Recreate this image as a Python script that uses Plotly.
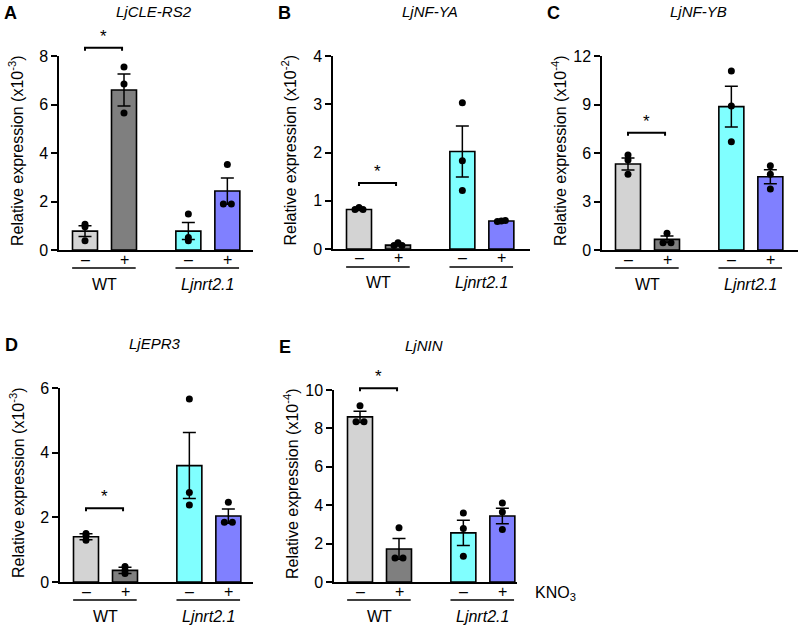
import plotly.graph_objects as go

# ---------------- data ----------------
x_pos = [0, 1, 2.65, 3.65]
kno3_ticks = ['–', '+', '–', '+']
genotypes = ['WT', 'Ljnrt2.1']
bar_colors = ['#D3D3D3', '#7F7F7F', '#80FFFF', '#8080FF']

panel_letters = ['A', 'B', 'C', 'D', 'E']
gene_names = ['LjCLE-RS2', 'LjNF-YA', 'LjNF-YB', 'LjEPR3', 'LjNIN']
y_exponents = ['-3', '-2', '-4', '-3', '-4']
y_max = [8, 4, 12, 6, 10]
y_dtick = [2, 1, 3, 2, 2]

mean_A = [0.78, 6.60, 0.78, 2.43]
sem_A = [0.22, 0.66, 0.35, 0.54]
pts_A = [[1.06, 0.96, 0.38], [7.55, 6.85, 5.65], [1.48, 0.52, 0.38], [3.53, 1.90, 1.90]]

mean_B = [0.82, 0.08, 2.02, 0.58]
sem_B = [0.02, 0.02, 0.53, 0.01]
pts_B = [[0.82, 0.86, 0.82], [0.07, 0.13, 0.07], [3.03, 1.83, 1.21], [0.57, 0.58, 0.59]]

mean_C = [5.32, 0.66, 8.87, 4.53]
sem_C = [0.37, 0.20, 1.26, 0.43]
pts_C = [[5.88, 5.57, 4.68], [1.03, 0.45, 0.45], [11.07, 8.91, 6.70], [5.21, 4.68, 3.77]]

mean_D = [1.40, 0.36, 3.60, 2.04]
sem_D = [0.09, 0.10, 1.02, 0.22]
pts_D = [[1.50, 1.43, 1.29], [0.48, 0.36, 0.26], [5.66, 2.77, 2.38], [2.47, 1.85, 1.85]]

mean_E = [8.60, 1.72, 2.56, 3.44]
sem_E = [0.29, 0.54, 0.66, 0.40]
pts_E = [[9.18, 8.35, 8.35], [2.82, 1.25, 1.25], [3.60, 2.78, 1.34], [4.12, 3.65, 2.73]]

all_means = [mean_A, mean_B, mean_C, mean_D, mean_E]
all_sems = [sem_A, sem_B, sem_C, sem_D, sem_E]
all_pts = [pts_A, pts_B, pts_C, pts_D, pts_E]
sig_height = [8.34, 1.37, 7.25, 2.28, 10.09]   # WT -/+ significance bracket level

# ---------------- layout geometry (pixels) ----------------
W, H = 800, 627
geom = [  # left, right, top, bottom of each axis box
    (59, 253, 56, 250),
    (333, 530, 56, 249),
    (602, 798, 56, 250),
    (60, 253, 388, 582),
    (334, 517, 390, 582),
]
PX_PER_X = 39.0
X_OFF = 26.0
FONT = 'Arial, Liberation Sans, sans-serif'


def fx(px):
    return px / W


def fy(py):
    return 1 - py / H


def spread(vals, ppu, tol_px=1.5, total_px=8):
    offs = [0.0] * len(vals)
    used = [False] * len(vals)
    for i in range(len(vals)):
        if used[i]:
            continue
        grp = [j for j in range(len(vals)) if not used[j] and abs(vals[j] - vals[i]) * ppu < tol_px]
        for j in grp:
            used[j] = True
        n = len(grp)
        if n > 1:
            for k, j in enumerate(grp):
                offs[j] = (k - (n - 1) / 2) * total_px / (n - 1)
    return offs


fig = go.Figure()
annotations = []
shapes = []
layout_axes = {}

for i in range(5):
    L, R, T, B = geom[i]
    sfx = '' if i == 0 else str(i + 1)
    xa, ya = 'x' + sfx, 'y' + sfx
    ppu = (B - T) / y_max[i]

    fig.add_trace(go.Bar(
        x=x_pos, y=all_means[i], width=25 / PX_PER_X,
        marker=dict(color=bar_colors, line=dict(color='black', width=1.6)),
        error_y=dict(type='data', array=all_sems[i], visible=True,
                     color='black', thickness=1.5, width=6.5),
        xaxis=xa, yaxis=ya, showlegend=False, hoverinfo='skip'))

    px_, py_ = [], []
    for k in range(4):
        offs = spread(all_pts[i][k], ppu)
        for v, o in zip(all_pts[i][k], offs):
            px_.append(x_pos[k] + o / PX_PER_X)
            py_.append(v)
    fig.add_trace(go.Scatter(
        x=px_, y=py_, mode='markers', cliponaxis=False,
        marker=dict(color='black', size=7, line=dict(width=0)),
        xaxis=xa, yaxis=ya, showlegend=False, hoverinfo='skip'))

    layout_axes['xaxis' + sfx] = dict(
        domain=[fx(L), fx(R)], anchor=ya, automargin=False,
        range=[-X_OFF / PX_PER_X, (R - L - X_OFF) / PX_PER_X],
        showline=True, linecolor='black', linewidth=1.5,
        showgrid=False, zeroline=False, ticks='',
        tickmode='array', tickvals=x_pos, showticklabels=False,
        fixedrange=True)
    layout_axes['yaxis' + sfx] = dict(
        domain=[fy(B), fy(T)], anchor=xa, automargin=False,
        range=[0, y_max[i]], dtick=y_dtick[i], tick0=0,
        showline=True, linecolor='black', linewidth=1.5,
        showgrid=False, zeroline=False, ticks='outside', ticklen=6,
        tickwidth=1.5, tickcolor='black',
        tickfont=dict(size=16, color='black', family=FONT), fixedrange=True)

    # KNO3 -/+ labels under each bar
    for k in range(4):
        annotations.append(dict(
            xref=xa, yref='paper', x=x_pos[k], y=fy(B + 9),
            text=kno3_ticks[k], showarrow=False, xanchor='center', yanchor='middle',
            font=dict(size=16, color='black', family=FONT)))

    # y title
    annotations.append(dict(
        xref='paper', yref='paper', x=fx(L - 43), y=fy((T + B) / 2 - 2),
        text='Relative expression (x10<sup>' + y_exponents[i] + '</sup>)',
        textangle=-90, showarrow=False, xanchor='center', yanchor='middle',
        font=dict(size=16, color='black', family=FONT)))
    # gene title
    annotations.append(dict(
        xref='paper', yref='paper', x=fx((L + R) / 2 - 2), y=fy(T - 45),
        text='<i>' + gene_names[i] + '</i>', showarrow=False,
        xanchor='center', yanchor='middle',
        font=dict(size=15, color='black', family=FONT)))
    # panel letter
    annotations.append(dict(
        xref='paper', yref='paper', x=fx(L - 49), y=fy(T - 43),
        text='<b>' + panel_letters[i] + '</b>', showarrow=False,
        xanchor='center', yanchor='middle',
        font=dict(size=18, color='black', family=FONT)))

    # genotype lines + labels
    for g in range(2):
        xa0, xa1 = x_pos[2 * g], x_pos[2 * g + 1]
        shapes.append(dict(type='line', xref=xa, yref='paper',
                           x0=xa0 - 0.33, x1=xa1 + 0.30,
                           y0=fy(B + 18), y1=fy(B + 18),
                           line=dict(color='black', width=1.5)))
        lab = genotypes[g] if g == 0 else '<i>' + genotypes[g] + '</i>'
        annotations.append(dict(
            xref=xa, yref='paper', x=(xa0 + xa1) / 2, y=fy(B + 34),
            text=lab, showarrow=False, xanchor='center', yanchor='middle',
            font=dict(size=16, color='black', family=FONT)))

    # significance bracket (WT - vs +)
    yb = fy(B - sig_height[i] * ppu)
    ytick = fy(B - sig_height[i] * ppu + 3)
    bx0, bx1 = x_pos[0], x_pos[1] - 0.05
    shapes.append(dict(type='path', xref=xa, yref='paper',
                       path=f'M {bx0},{ytick} L {bx0},{yb} L {bx1},{yb} L {bx1},{ytick}',
                       line=dict(color='black', width=2)))
    annotations.append(dict(
        xref=xa, yref='paper', x=(bx0 + bx1) / 2, y=yb,
        text='*', showarrow=False, xanchor='center', yanchor='bottom',
        font=dict(size=17, color='black', family=FONT)))

annotations.append(dict(
    xref='paper', yref='paper', x=fx(555), y=fy(593),
    text='KNO<sub>3</sub>', showarrow=False, xanchor='center', yanchor='middle',
    font=dict(size=16, color='black', family=FONT)))

fig.update_layout(
    width=W, height=H, margin=dict(l=0, r=0, t=0, b=0, autoexpand=False),
    paper_bgcolor='white', plot_bgcolor='white',
    showlegend=False, barmode='overlay',
    annotations=annotations, shapes=shapes,
    font=dict(family=FONT, color='black'),
    **layout_axes)

fig.write_html('out.html',
               config={'displayModeBar': False},
               post_script="document.body.style.margin='0px';"
                           "document.body.style.overflow='hidden';")
